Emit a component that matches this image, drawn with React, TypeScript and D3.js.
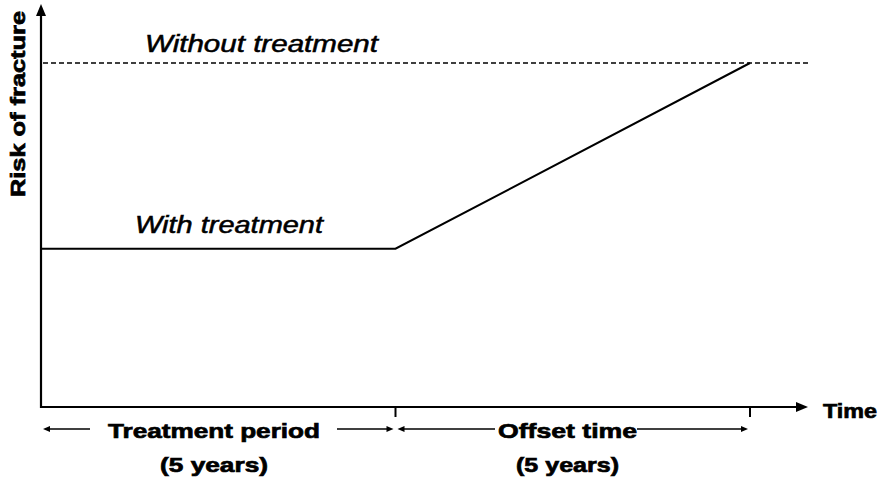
import React from "react";
import * as d3 from "d3";

const WIDTH = 882;
const HEIGHT = 482;

// years along the time axis, risk on a 0..1 scale relative to "without treatment"
const years = [0, 5, 10];
const riskWithTreatment = [0.46, 0.46, 1.0];
const riskWithout = 1.0;
const tickYears = [5, 10];
const phaseLabels = ["Treatment period", "Offset time"];
const phaseSubLabels = ["(5 years)", "(5 years)"];
const phaseBounds = [[0, 5], [5, 10]];
const seriesLabels = ["Without treatment", "With treatment"];

const FONT = "'Liberation Sans', Arial, Helvetica, sans-serif";

export default function App() {
    const x = d3.scaleLinear().domain([0, 10]).range([41, 750]);
    const y = d3.scaleLinear().domain([0, 1]).range([407, 63]);

    const line = d3.line<number>()
        .x((d, i) => x(years[i]))
        .y((d) => y(d));

    // text widths (the source art is stretched horizontally)
    const phaseWidths = [212, 139];
    const subWidths = [108, 103];
    const gaps = [[18, 17], [3, 0]];
    const arrowY = 429;

    const arrowHead = (tipX: number, dir: number) =>
        `M${tipX},${arrowY} L${tipX - dir * 7},${arrowY - 3} L${tipX - dir * 7},${arrowY + 3} Z`;

    // heavier glyphs, like the original bitmap
    const boldStyle = {stroke: "#000", strokeWidth: 0.7};
    const italStyle = {stroke: "#000", strokeWidth: 0.5};

    return (
        <svg width={WIDTH} height={HEIGHT} style={{position: "absolute", left: 0, top: 0}}>
            <rect width={WIDTH} height={HEIGHT} fill="#fff"/>

            {/* axes */}
            <line x1={x(0)} y1={y(0) + 1} x2={x(0)} y2={14} stroke="#000" strokeWidth={2.2}/>
            <path d={`M${x(0)},4 L${x(0) - 5},16 L${x(0) + 5},16 Z`} fill="#000"/>
            <line x1={x(0) - 1} y1={y(0)} x2={798} y2={y(0)} stroke="#000" strokeWidth={2.2}/>
            <path d={`M808,${y(0)} L796,${y(0) - 5} L796,${y(0) + 5} Z`} fill="#000"/>

            {tickYears.map((t) => (
                <line key={t} x1={x(t)} x2={x(t)} y1={y(0)} y2={y(0) + 10} stroke="#000" strokeWidth={2}/>
            ))}

            {/* without treatment */}
            <line x1={x(0) + 2} x2={810} y1={y(riskWithout)} y2={y(riskWithout)}
                  stroke="#000" strokeWidth={1.4} strokeDasharray="5,3"/>
            {/* with treatment */}
            <path d={line(riskWithTreatment) || ""} fill="none" stroke="#000" strokeWidth={2}/>

            <text x={145} y={52} fontFamily={FONT} fontStyle="italic" fontSize={23} style={italStyle}
                  textLength={233} lengthAdjust="spacingAndGlyphs">{seriesLabels[0]}</text>
            <text x={135} y={233} fontFamily={FONT} fontStyle="italic" fontSize={23} style={italStyle}
                  textLength={188} lengthAdjust="spacingAndGlyphs">{seriesLabels[1]}</text>

            <text transform="translate(25,104) rotate(-90)" textAnchor="middle" fontFamily={FONT}
                  fontWeight="bold" fontSize={21} textLength={186} lengthAdjust="spacingAndGlyphs"
                  style={boldStyle}>
                Risk of fracture
            </text>
            <text x={823} y={418} fontFamily={FONT} fontWeight="bold" fontSize={21} style={boldStyle}
                  textLength={54} lengthAdjust="spacingAndGlyphs">Time</text>

            {phaseLabels.map((label, i) => {
                const x0 = x(phaseBounds[i][0]) + 2;
                const x1 = x(phaseBounds[i][1]) - 2;
                const cx = i === 0 ? 214 : 567.5;
                const w = phaseWidths[i];
                const leftEnd = cx - w / 2 - gaps[i][0];
                const rightStart = cx + w / 2 + gaps[i][1];
                return (
                    <g key={label}>
                        <line x1={x0 + 5} x2={leftEnd} y1={arrowY} y2={arrowY} stroke="#000" strokeWidth={1.6}/>
                        <path d={arrowHead(x0, -1)} fill="#000"/>
                        <line x1={rightStart} x2={x1 - 5} y1={arrowY} y2={arrowY} stroke="#000" strokeWidth={1.6}/>
                        <path d={arrowHead(x1, 1)} fill="#000"/>
                        <text x={cx} y={438} textAnchor="middle" fontFamily={FONT} fontWeight="bold"
                              fontSize={21} textLength={w} lengthAdjust="spacingAndGlyphs"
                              style={boldStyle}>{label}</text>
                        <text x={cx} y={472} textAnchor="middle" fontFamily={FONT} fontWeight="bold"
                              fontSize={21} textLength={subWidths[i]} lengthAdjust="spacingAndGlyphs"
                              style={boldStyle}>
                            {phaseSubLabels[i]}
                        </text>
                    </g>
                );
            })}
        </svg>
    );
}
